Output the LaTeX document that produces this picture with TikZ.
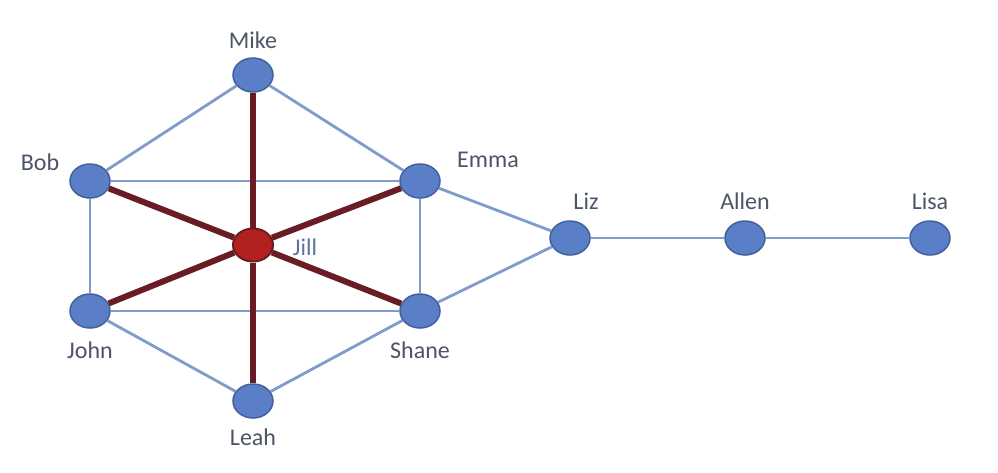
\documentclass[tikz,border=0pt]{standalone}
\usepackage{fontspec}
\setmainfont{Carlito}
\definecolor{nodefill}{HTML}{5B7FC6}
\definecolor{nodeline}{HTML}{41609E}
\definecolor{edgeblue}{HTML}{7F9CCB}
\definecolor{edgered}{HTML}{6A1C24}
\definecolor{jillfill}{HTML}{B32020}
\definecolor{labelgray}{HTML}{4C5466}
\definecolor{jilltext}{HTML}{5E72A0}
\tikzset{
  x=1pt,y=-1pt,
  vert/.style={ellipse, draw=nodeline, line width=1.5pt, fill=nodefill, minimum width=40pt, minimum height=34pt, inner sep=0pt},
  redvert/.style={vert, fill=jillfill, draw=edgered, line width=2pt, minimum width=40pt, minimum height=33pt},
  lbl/.style={text=labelgray, font=\fontsize{24}{28}\selectfont, inner sep=0pt},
  blueedge/.style={draw=edgeblue, line width=2.8pt},
  rededge/.style={draw=edgered, line width=6pt},
}
\usetikzlibrary{shapes.geometric}
\begin{document}
\begin{tikzpicture}
\useasboundingbox[fill=white] (0,0) rectangle (998,472);
% nodes
\node[vert] (Mike) at (253,75) {};
\node[vert] (Bob) at (90,181) {};
\node[vert] (Emma) at (420,181) {};
\node[redvert] (Jill) at (253,245) {};
\node[vert] (John) at (90,311) {};
\node[vert] (Shane) at (420,311) {};
\node[vert] (Leah) at (253,401) {};
\node[vert] (Liz) at (570,238) {};
\node[vert] (Allen) at (745,238) {};
\node[vert] (Lisa) at (930,238) {};
% blue edges
\draw[blueedge] (Mike) -- (Bob);
\draw[blueedge] (Mike) -- (Emma);
\draw[blueedge] (Bob) -- (Emma);
\draw[blueedge] (Bob) -- (John);
\draw[blueedge] (Emma) -- (Shane);
\draw[blueedge] (John) -- (Shane);
\draw[blueedge] (John) -- (Leah);
\draw[blueedge] (Shane) -- (Leah);
\draw[blueedge] (Emma) -- (Liz);
\draw[blueedge] (Shane) -- (Liz);
\draw[blueedge] (Liz) -- (Allen);
\draw[blueedge] (Allen) -- (Lisa);
% red edges
\draw[rededge] (Jill) -- (Mike);
\draw[rededge] (Jill) -- (Bob);
\draw[rededge] (Jill) -- (Emma);
\draw[rededge] (Jill) -- (John);
\draw[rededge] (Jill) -- (Shane);
\draw[rededge] (Jill) -- (Leah);
% labels
\node[lbl] (tMike) at (253,40) {Mike};
\node[lbl] (tBob) at (40,162) {Bob};
\node[lbl] (tEmma) at (488,160) {Emma};
\node[lbl, text=jilltext] (tJill) at (305,247) {Jill};
\node[lbl] (tJohn) at (90,350) {John};
\node[lbl] (tShane) at (420,350) {Shane};
\node[lbl] (tLeah) at (253,437) {Leah};
\node[lbl] (tLiz) at (586,201) {Liz};
\node[lbl] (tAllen) at (745,201) {Allen};
\node[lbl] (tLisa) at (930,201) {Lisa};
\end{tikzpicture}
\end{document}
